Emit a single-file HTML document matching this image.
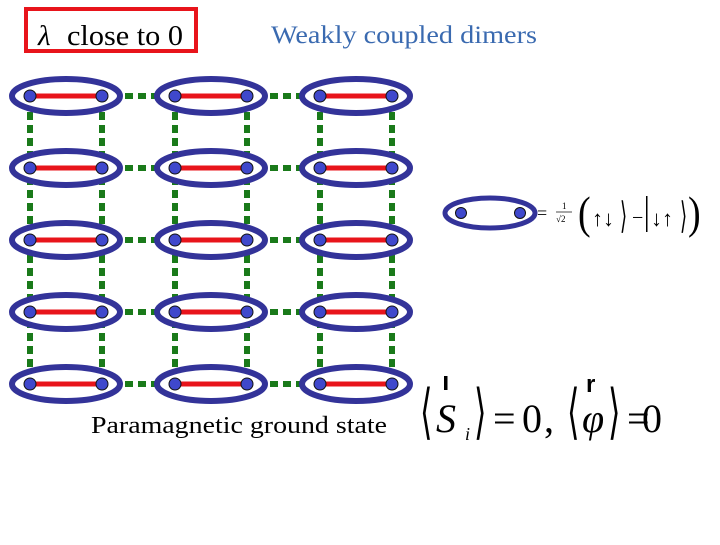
<!DOCTYPE html>
<html><head><meta charset="utf-8"><style>
body{margin:0;width:720px;height:540px;background:#fff;overflow:hidden}
</style></head><body>
<svg width="720" height="540" xmlns="http://www.w3.org/2000/svg" font-family="'Liberation Serif', serif">
<rect x="26" y="9" width="170" height="42" fill="none" stroke="#e8141b" stroke-width="4"/>
<text x="38" y="45" font-size="29" font-style="italic">λ</text>
<text x="67" y="45" font-size="29" textLength="116" lengthAdjust="spacingAndGlyphs">close to 0</text>
<text x="271" y="43" font-size="25" fill="#3a6ab0" textLength="266" lengthAdjust="spacingAndGlyphs">Weakly coupled dimers</text>
<g stroke="#1a7a1a" stroke-width="6" stroke-dasharray="8,5">
<line x1="30" y1="112" x2="30" y2="370"/><line x1="102" y1="112" x2="102" y2="370"/>
<line x1="175" y1="112" x2="175" y2="370"/><line x1="247" y1="112" x2="247" y2="370"/>
<line x1="320" y1="112" x2="320" y2="370"/><line x1="392" y1="112" x2="392" y2="370"/>
<line x1="112" y1="96" x2="170" y2="96"/><line x1="257" y1="96" x2="315" y2="96"/>
<line x1="112" y1="168" x2="170" y2="168"/><line x1="257" y1="168" x2="315" y2="168"/>
<line x1="112" y1="240" x2="170" y2="240"/><line x1="257" y1="240" x2="315" y2="240"/>
<line x1="112" y1="312" x2="170" y2="312"/><line x1="257" y1="312" x2="315" y2="312"/>
<line x1="112" y1="384" x2="170" y2="384"/><line x1="257" y1="384" x2="315" y2="384"/>
</g>
<defs>
<g id="d">
<ellipse cx="0" cy="0" rx="54" ry="17" fill="#fff" stroke="#333399" stroke-width="6"/>
<line x1="-36" y1="0" x2="36" y2="0" stroke="#e8141b" stroke-width="5"/>
<circle cx="-36" cy="0" r="6" fill="#3f48cc" stroke="#111" stroke-width="1"/>
<circle cx="36" cy="0" r="6" fill="#3f48cc" stroke="#111" stroke-width="1"/>
</g>
</defs>
<use href="#d" x="66" y="96"/><use href="#d" x="211" y="96"/><use href="#d" x="356" y="96"/>
<use href="#d" x="66" y="168"/><use href="#d" x="211" y="168"/><use href="#d" x="356" y="168"/>
<use href="#d" x="66" y="240"/><use href="#d" x="211" y="240"/><use href="#d" x="356" y="240"/>
<use href="#d" x="66" y="312"/><use href="#d" x="211" y="312"/><use href="#d" x="356" y="312"/>
<use href="#d" x="66" y="384"/><use href="#d" x="211" y="384"/><use href="#d" x="356" y="384"/>
<ellipse cx="490" cy="213" rx="45" ry="15" fill="#fff" stroke="#333399" stroke-width="5"/>
<circle cx="461" cy="213" r="5.5" fill="#3f48cc" stroke="#111"/>
<circle cx="520" cy="213" r="5.5" fill="#3f48cc" stroke="#111"/>
<text x="537" y="219" font-size="18">=</text>
<text x="562" y="209" font-size="9">1</text>
<line x1="556" y1="212" x2="572" y2="212" stroke="#000" stroke-width="0.7"/>
<text x="556" y="222" font-size="9">√2</text>
<text x="578" y="228" font-size="38" transform="translate(578,228) scale(1,1.2) translate(-578,-228)">(</text>
<text x="592" y="226" font-size="22">↑↓</text>
<text x="620" y="228" font-size="26" transform="translate(620,228) scale(0.7,1.4) translate(-620,-228)">⟩</text>
<text x="632" y="224" font-size="20">−</text>
<rect x="646" y="196" width="1.5" height="36" fill="#000"/>
<text x="651" y="226" font-size="22">↓↑</text>
<text x="680" y="228" font-size="26" transform="translate(680,228) scale(0.7,1.4) translate(-680,-228)">⟩</text>
<text x="688" y="228" font-size="38" transform="translate(688,228) scale(1,1.2) translate(-688,-228)">)</text>
<text x="91" y="433" font-size="24" textLength="296" lengthAdjust="spacingAndGlyphs">Paramagnetic ground state</text>
<g font-size="40">
<text x="420" y="432" transform="translate(420,432) scale(0.8,1.5) translate(-420,-432)">⟨</text>
<text x="436" y="432" font-style="italic">S</text>
<text x="465" y="440" font-size="18" font-style="italic">i</text>
<rect x="444" y="376" width="3.5" height="14" fill="#000"/>
<text x="474" y="432" transform="translate(474,432) scale(0.8,1.5) translate(-474,-432)">⟩</text>
<text x="493" y="432">=</text>
<text x="522" y="432">0</text>
<text x="544" y="432">,</text>
<text x="567" y="432" transform="translate(567,432) scale(0.8,1.5) translate(-567,-432)">⟨</text>
<text x="582" y="432" font-style="italic">φ</text>
<text x="586" y="392" font-size="24" font-family="'Liberation Sans', sans-serif" font-weight="bold">r</text>
<text x="608" y="432" transform="translate(608,432) scale(0.8,1.5) translate(-608,-432)">⟩</text>
<text x="627" y="432">=</text>
<text x="642" y="432">0</text>
</g>
</svg>
</body></html>
